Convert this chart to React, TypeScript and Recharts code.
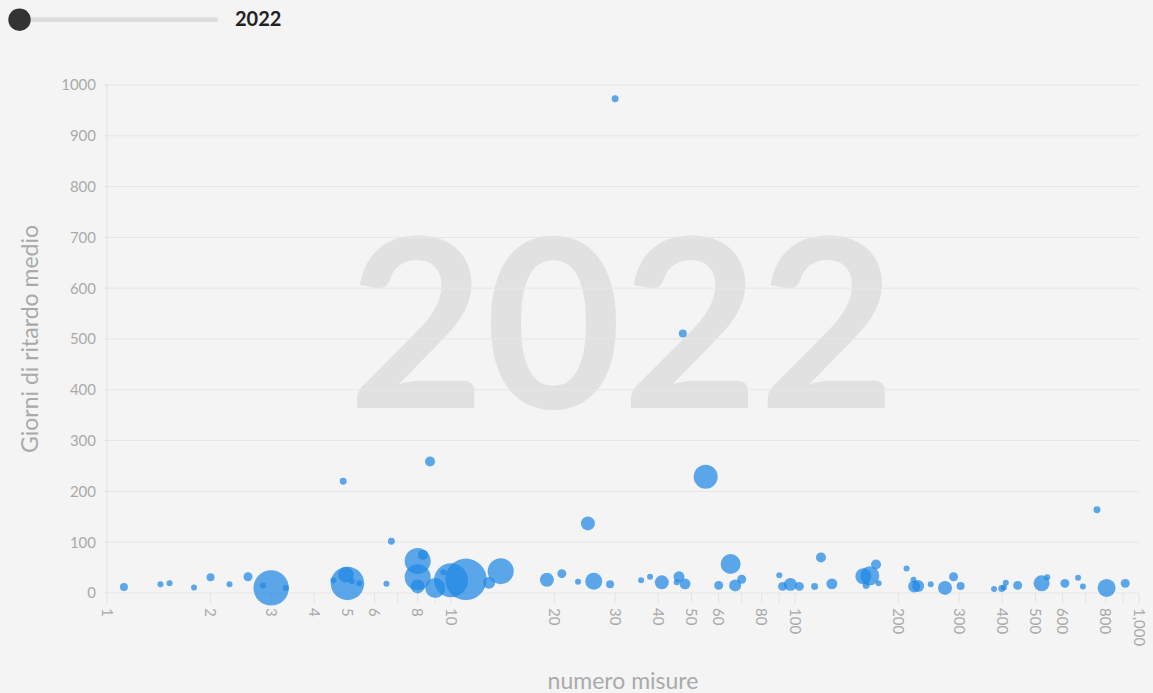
import React from 'react';
import { ScatterChart, Scatter, XAxis, YAxis, ZAxis, CartesianGrid } from 'recharts';

if (typeof document !== 'undefined') {
  document.body.style.margin = '0';
  document.body.style.background = '#f4f4f4';
}

const years = [2022];
const xTicks = [1, 2, 3, 4, 5, 6, 7, 8, 9, 10, 20, 30, 40, 50, 60, 70, 80, 90, 100, 200, 300, 400, 500, 600, 700, 800, 900, 1000];
const xLabelled = [1, 2, 3, 4, 5, 6, 8, 10, 20, 30, 40, 50, 60, 80, 100, 200, 300, 400, 500, 600, 800, 1000];
const yTicks = [0, 100, 200, 300, 400, 500, 600, 700, 800, 900, 1000];

// numero misure
const numeroMisure = [
  1.12, 1.43, 1.52, 1.79, 2, 2.27, 2.57, 3, 2.84, 3.31,
  4.86, 5, 4.95, 4.55, 5.15, 5.41, 6.49, 6.71, 8, 8.29,
  8, 8, 8.69, 9, 9.5, 10, 11.05, 12.9, 13.95, 19,
  21, 23.4, 25, 26, 29, 30, 35.7, 37.9, 41, 46,
  45.3, 47.9, 47.2, 55, 60, 65, 67, 70, 90, 92,
  97, 103, 119, 114, 128, 158, 165, 172, 161, 175,
  211, 221, 222, 228, 248, 273, 289, 303, 379, 399,
  410, 405, 444, 521, 541, 609, 665, 687, 755, 805, 912,
];
// giorni di ritardo medio
const giorniRitardo = [
  12, 17, 19, 11, 31, 17, 32, 10, 15, 10,
  220, 19, 36, 25, 23, 19, 18, 102, 63, 75,
  31, 13, 259, 10, 41, 25, 27, 20, 43, 26,
  38, 22, 137, 23, 17, 973, 25, 32, 21, 32,
  21, 18, 511, 229, 15, 57, 15, 27, 35, 13,
  17, 13, 70, 13, 18, 33, 34, 56, 15, 19,
  48, 26, 13, 14, 17, 10, 32, 14, 8, 9,
  20, 11, 15, 19, 31, 19, 30, 13, 164, 10, 19,
];
// peso della bolla
const peso = [
  16, 9, 9, 9, 16, 9, 20, 313, 9, 9,
  12, 279, 61, 9, 9, 9, 9, 12, 169, 25,
  169, 49, 25, 100, 9, 289, 428, 36, 169, 49,
  20, 9, 49, 72, 16, 12, 9, 9, 49, 30,
  9, 30, 16, 144, 20, 100, 36, 20, 9, 20,
  42, 20, 25, 12, 30, 64, 90, 25, 12, 9,
  9, 9, 36, 36, 9, 49, 20, 16, 9, 12,
  9, 9, 20, 64, 9, 20, 9, 9, 12, 81, 20,
];

const data = numeroMisure.map((x, i) => ({ x, y: giorniRitardo[i], z: peso[i] }));

const fmt = (v: number) => String(v).replace(/\B(?=(\d{3})+(?!\d))/g, ',');

const FONT = 'Lato, "Noto Sans", sans-serif';
const TICK_COLOR = '#aaaaaa';

const XTick = (props: any) => {
  const { x, y, payload } = props;
  const v = payload.value;
  if (!xLabelled.includes(v)) return <g />;
  return (
    <text
      x={x}
      y={y}
      dy="0.36em"
      transform={`rotate(90 ${x} ${y})`}
      textAnchor="start"
      fill={TICK_COLOR}
      fontSize={15}
      fontFamily={FONT}
    >
      {fmt(v)}
    </text>
  );
};

export default function App() {
  return (
    <div style={{ position: 'relative', width: 1153, height: 693, background: '#f4f4f4', fontFamily: FONT, overflow: 'hidden' }}>
      <svg width={1153} height={693} style={{ position: 'absolute', left: 0, top: 0 }}>
        <text x={622} y={408} textAnchor="middle" fontSize={236} fontWeight={700} fill="#e1e1e1" fontFamily={FONT}>
          {years[0]}
        </text>
        <text transform="rotate(-90)" x={-339} y={38} textAnchor="middle" fontSize={23} fill={TICK_COLOR} fontFamily={FONT}>
          Giorni di ritardo medio
        </text>
        <text x={623} y={689} textAnchor="middle" fontSize={23} fill={TICK_COLOR} fontFamily={FONT}>
          numero misure
        </text>
        {/* slider */}
        <rect x={14} y={17.3} width={204} height={4.8} rx={2.4} fill="#dddddd" />
        <circle cx={19.5} cy={19.7} r={11.2} fill="#333333" />
        <text x={235} y={26} fontSize={20} fontWeight={700} fill="#222222" fontFamily={FONT}>
          {years[0]}
        </text>
      </svg>
      <div style={{ position: 'absolute', left: 0, top: 0 }}>
        <ScatterChart width={1153} height={693} margin={{ top: 85, right: 14, bottom: 0, left: 0 }}>
          <CartesianGrid vertical={false} stroke="#e6e6e6" />
          <XAxis
            type="number"
            dataKey="x"
            scale="log"
            domain={[1, 1000]}
            allowDataOverflow
            ticks={xTicks}
            interval={0}
            height={100}
            axisLine={false}
            tickLine={{ stroke: '#e3e3e3' }}
            tickSize={10}
            tickMargin={5}
            tick={<XTick />}
          />
          <YAxis
            type="number"
            dataKey="y"
            domain={[0, 1000]}
            ticks={yTicks}
            interval={0}
            width={107}
            axisLine={{ stroke: '#e3e3e3' }}
            tickLine={{ stroke: '#e3e3e3' }}
            tickSize={4}
            tickMargin={7}
            tick={{ fill: TICK_COLOR, fontSize: 15, fontFamily: FONT }}
          />
          <ZAxis type="number" dataKey="z" domain={[0, 450]} range={[0, 450 * Math.PI]} />
          <Scatter data={data} fill="#1e88e5" fillOpacity={0.72} isAnimationActive={false} />
        </ScatterChart>
      </div>
    </div>
  );
}
